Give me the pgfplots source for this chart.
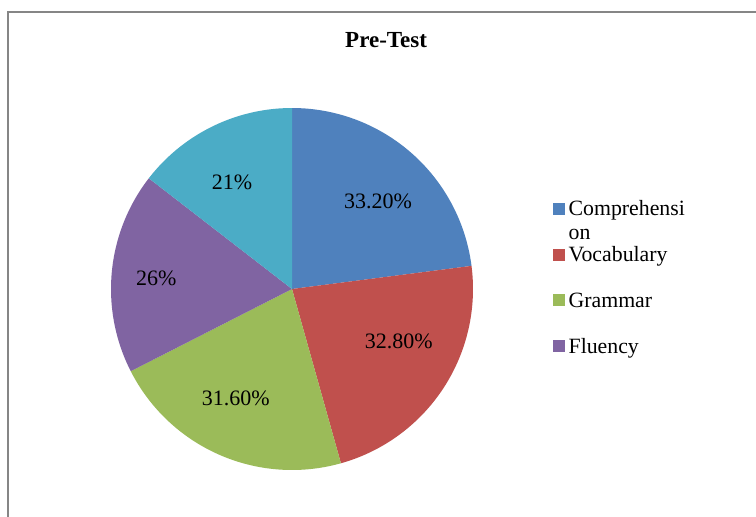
\documentclass[border=0pt]{standalone}
\usepackage{fontspec}
\setmainfont{Liberation Serif}
\usepackage{pgfplots}
\pgfplotsset{compat=1.18}
\definecolor{cComp}{HTML}{4F81BD}
\definecolor{cVoc}{HTML}{C0504D}
\definecolor{cGram}{HTML}{9BBB59}
\definecolor{cFlu}{HTML}{8064A2}
\definecolor{cAqua}{HTML}{4BACC6}
\definecolor{frame}{RGB}{134,134,134}
% slice values (percent labels as in the chart)
\def\vA{33.2}
\def\vB{32.8}
\def\vC{31.6}
\def\vD{26}
\def\vE{21}
\pgfmathsetmacro\tot{\vA+\vB+\vC+\vD+\vE}
\pgfmathsetmacro\bA{90-360*\vA/\tot}
\pgfmathsetmacro\bB{\bA-360*\vB/\tot}
\pgfmathsetmacro\bC{\bB-360*\vC/\tot}
\pgfmathsetmacro\bD{\bC-360*\vD/\tot}
\pgfmathsetmacro\bE{\bD-360*\vE/\tot}
\begin{document}
\begin{tikzpicture}
\useasboundingbox (0,0) rectangle (378pt,258pt);
\fill[white] (0,0) rectangle (378pt,258pt);
\draw[frame, line width=1pt] (4pt,-20pt) rectangle (400pt,252pt);
\begin{axis}[
  at={(146pt,113.5pt)}, anchor=center,
  width=181pt, height=181pt, scale only axis,
  xmin=-1, xmax=1, ymin=-1, ymax=1,
  hide axis, clip=false,
  legend image code/.code={\fill[#1] (0pt,-3pt) rectangle (6pt,3pt);},
  legend cell align=left,
  legend style={at={(axis description cs:1.220,0.532)}, anchor=west, draw=none, fill=none,
    inner sep=0pt, outer sep=0pt, row sep=15.7pt,
    font=\fontsize{10.9}{11.85}\selectfont,
    nodes={inner sep=0pt, outer sep=0pt, text height=7.2pt, text depth=0pt},
    /tikz/every odd column/.style={column sep=2pt}},
]
\addplot[fill=cComp, draw=none, domain=\bA:90, samples=80, variable=\t] ({cos(\t)},{sin(\t)}) -- (axis cs:0,0) -- cycle;
\addplot[fill=cVoc, draw=none, domain=\bB:\bA, samples=80, variable=\t] ({cos(\t)},{sin(\t)}) -- (axis cs:0,0) -- cycle;
\addplot[fill=cGram, draw=none, domain=\bC:\bB, samples=80, variable=\t] ({cos(\t)},{sin(\t)}) -- (axis cs:0,0) -- cycle;
\addplot[fill=cFlu, draw=none, domain=\bD:\bC, samples=80, variable=\t] ({cos(\t)},{sin(\t)}) -- (axis cs:0,0) -- cycle;
\addplot[fill=cAqua, draw=none, domain=\bE:\bD, samples=80, variable=\t] ({cos(\t)},{sin(\t)}) -- (axis cs:0,0) -- cycle;
\legend{\smash{\begin{tabular}[t]{@{}l@{}}Comprehensi\\on\end{tabular}},Vocabulary,Grammar,Fluency}
\node[font=\bfseries\fontsize{11.5}{13}\selectfont, anchor=center, inner sep=0pt] at (axis description cs:0.76,1.1865) {Pre-Test};
\begin{scope}[every node/.style={font=\fontsize{11}{13}\selectfont, anchor=center}]
\node at (axis cs:0.475,0.482) {33.20\%};
\node at (axis cs:0.590,-0.290) {32.80\%};
\node at (axis cs:-0.310,-0.602) {31.60\%};
\node at (axis cs:-0.750,0.061) {26\%};
\node at (axis cs:-0.331,0.587) {21\%};
\end{scope}
\end{axis}
\end{tikzpicture}
\end{document}
